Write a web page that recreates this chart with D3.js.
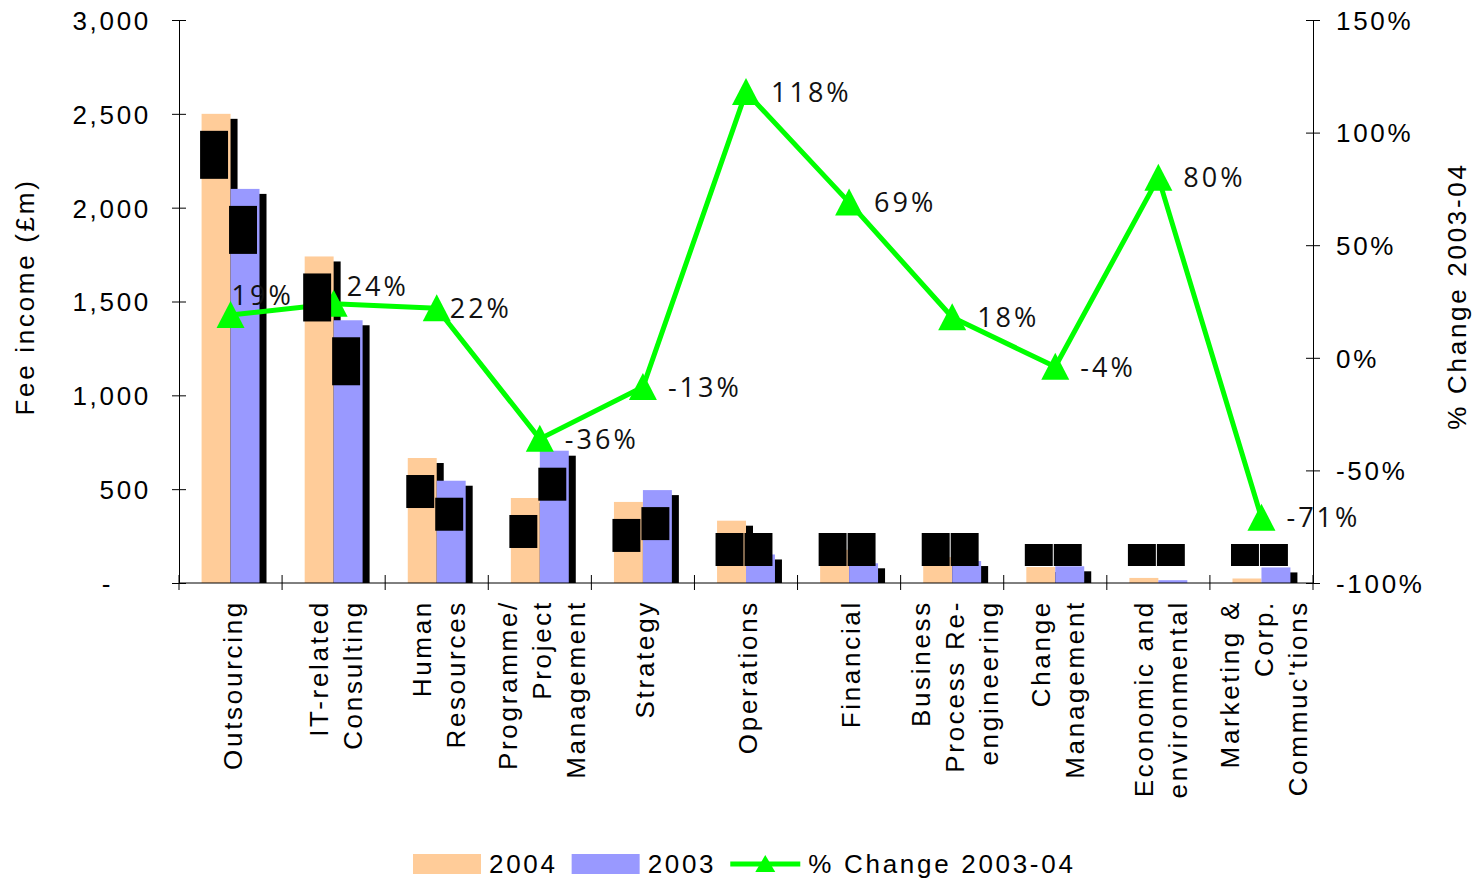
<!DOCTYPE html>
<html><head><meta charset="utf-8">
<script src="https://cdn.jsdelivr.net/npm/d3@7"></script>
<style>body{margin:0;background:#fff} svg{display:block}</style>
</head><body><svg id="c" width="1480" height="880"></svg>
<script>
// ---------- data ----------
const categories = ["Outsourcing","IT-related Consulting","Human Resources","Programme/ Project Management","Strategy","Operations","Financial","Business Process Re-engineering","Change Management","Economic and environmental","Marketing & Corp. Commuc'tions"];
const categoryLines = [["Outsourcing"],["IT-related","Consulting"],["Human","Resources"],["Programme/","Project","Management"],["Strategy"],["Operations"],["Financial"],["Business","Process Re-","engineering"],["Change","Management"],["Economic and","environmental"],["Marketing &","Corp.","Commuc'tions"]];
const fee2004 = [2500, 1740, 666, 453, 432, 332, 177, 138, 85, 27, 24];
const fee2003 = [2100, 1400, 545, 705, 495, 152, 105, 117, 89, 15, 83];
const pctChange = [19, 24, 22, -36, -13, 118, 69, 18, -4, 80, -71];
const leftTicks = [0, 500, 1000, 1500, 2000, 2500, 3000];
const rightTicks = [-100, -50, 0, 50, 100, 150];
const seriesNames = ["2004", "2003", "% Change 2003-04"];
const seriesColors = ["#FFCC99", "#9999FF", "#00FF00"];

// ---------- setup ----------
const svg = d3.select("#c");
const plot = {left:179, right:1313, top:20, bottom:583};
const AX_FONT = "'Liberation Sans', Arial, sans-serif";
const LBL_FONT = "'Open Sans', 'Noto Sans', sans-serif";
const styleText = sel => sel.style("font-family", AX_FONT).style("font-size","26px")
  .style("letter-spacing","2.7px").attr("fill","#000");

const x = d3.scaleBand().domain(categories).range([plot.left, plot.right]).padding(0);
const bw = x.bandwidth();
const xs = d3.scaleBand().domain(["2004","2003"]).range([0,bw]).paddingInner(0).paddingOuter(0.78);
const y = d3.scaleLinear().domain([0,3000]).range([plot.bottom, plot.top]);
const y2 = d3.scaleLinear().domain([-100,150]).range([plot.bottom, plot.top]);

const bars = [];
categories.forEach((c,i) => {
  bars.push({c, s:"2004", v:fee2004[i], color:seriesColors[0]});
  bars.push({c, s:"2003", v:fee2003[i], color:seriesColors[1]});
});

// ---------- shadows + bars ----------
const SH_DX = 7, SH_DY = 5;
svg.append("g").selectAll("rect").data(bars).join("rect")
  .attr("x", d => x(d.c) + xs(d.s) + SH_DX)
  .attr("y", d => y(d.v) + SH_DY)
  .attr("width", xs.bandwidth())
  .attr("height", d => Math.max(0, plot.bottom - y(d.v) - SH_DY))
  .attr("fill", "#000");
svg.append("g").selectAll("rect").data(bars).join("rect")
  .attr("x", d => x(d.c) + xs(d.s))
  .attr("y", d => y(d.v))
  .attr("width", xs.bandwidth())
  .attr("height", d => plot.bottom - y(d.v))
  .attr("fill", d => d.color);

// ---------- axes ----------
const gl = svg.append("g").attr("transform", `translate(${plot.left},0)`)
  .call(d3.axisLeft(y).tickValues(leftTicks).tickSizeInner(7).tickSizeOuter(0).tickPadding(21)
    .tickFormat(d => d === 0 ? "-" : d3.format(",")(d)));
gl.selectAll(".tick line").attr("x1", -7).attr("x2", 7).attr("stroke","#000");
gl.select(".domain").attr("stroke","#000");
gl.selectAll(".tick text").call(styleText).attr("dy","0.36em");
gl.selectAll(".tick text").filter(d => d === 0).attr("x", -66);

const gr = svg.append("g").attr("transform", `translate(${plot.right},0)`)
  .call(d3.axisRight(y2).tickValues(rightTicks).tickSizeInner(7).tickSizeOuter(0).tickPadding(16)
    .tickFormat(d => d + "%"));
gr.selectAll(".tick line").attr("x1", -7).attr("x2", 7).attr("stroke","#000");
gr.select(".domain").attr("stroke","#000");
gr.selectAll(".tick text").call(styleText).attr("dy","0.36em");

// category axis
const gx = svg.append("g");
gx.append("line").attr("x1", plot.left).attr("x2", plot.right)
  .attr("y1", y(0)).attr("y2", y(0)).attr("stroke", "#000");
const bounds = categories.map(c => x(c)).concat([x(categories[categories.length-1]) + bw]);
gx.selectAll("line.tk").data(bounds).join("line").attr("class","tk")
  .attr("x1", d => d).attr("x2", d => d)
  .attr("y1", y(0) - 8).attr("y2", y(0) + 7).attr("stroke", "#000");
const LINE_H = 34;
categories.forEach((c,i) => {
  const lines = categoryLines[i];
  const cx = x(c) + bw/2;
  lines.forEach((t,j) => {
    const off = (j - (lines.length-1)/2) * LINE_H;
    gx.append("text").text(t).call(styleText)
      .attr("text-anchor","end").attr("dy","0.36em")
      .attr("transform", `translate(${cx + off + 2},${y(0) + 17}) rotate(-90)`);
  });
});

// axis titles
svg.append("text").text("Fee income (£m)").call(styleText)
  .attr("text-anchor","middle").attr("dy","0.36em")
  .attr("transform","translate(25,297) rotate(-90)");
svg.append("text").text("% Change 2003-04").call(styleText)
  .attr("text-anchor","middle").attr("dy","0.36em")
  .attr("transform","translate(1457,296) rotate(-90)");

// ---------- % change line ----------
const pts = categories.map((c,i) => ({c, p:pctChange[i], px:x(c)+bw/2, py:y2(pctChange[i])}));
svg.append("path").datum(pts)
  .attr("d", d3.line().x(d => d.px).y(d => d.py))
  .attr("fill","none").attr("stroke", seriesColors[2]).attr("stroke-width", 5)
  .attr("stroke-linejoin","round");
const TRI = "M0,-14L14,13L-14,13Z";
svg.append("g").selectAll("path").data(pts).join("path")
  .attr("d", TRI).attr("transform", d => `translate(${d.px},${d.py})`)
  .attr("fill", seriesColors[2]);

// ---------- value label backgrounds (rendered black in the source) ----------
svg.append("g").selectAll("rect").data(bars).join("rect")
  .each(function(d){
    const s = d3.format(",")(Math.round(d.v));
    const digits = s.replace(/[^0-9]/g,"").length;
    const commas = s.length - digits;
    const h = 11*digits + 4*commas;
    let top = y(d.v) + 17;
    if (top + h > plot.bottom - 17) top = plot.bottom - 17 - h;
    d3.select(this)
      .attr("x", x(d.c) + xs(d.s) - 1.5)
      .attr("y", top)
      .attr("width", xs.bandwidth() - 1)
      .attr("height", h)
      .attr("fill","#000");
  });

// ---------- % labels ----------
const nudge = {0:[1,-20], 1:[13,-17], 2:[13,0]};
svg.append("g").selectAll("text").data(pts).join("text")
  .text(d => d.p + "%")
  .attr("x", (d,i) => d.px + (nudge[i] ? nudge[i][0] : 25))
  .attr("y", (d,i) => d.py + (nudge[i] ? nudge[i][1] : 0))
  .attr("dy","0.36em")
  .style("font-family", LBL_FONT).style("font-size","27px").style("letter-spacing","3px")
  .attr("fill","#111");

// ---------- legend ----------
const lg = svg.append("g");
let lx = 413;
const LY = 864;
[0,1].forEach(k => {
  lg.append("rect").attr("x", lx).attr("y", LY-10).attr("width", 68).attr("height", 20)
    .attr("fill", seriesColors[k]);
  lx += 76;
  const t = lg.append("text").text(seriesNames[k]).call(styleText)
    .attr("x", lx).attr("y", LY).attr("dy","0.36em");
  lx += t.node().getComputedTextLength() + 14;
});
lg.append("line").attr("x1", lx).attr("x2", lx+70).attr("y1", LY).attr("y2", LY)
  .attr("stroke", seriesColors[2]).attr("stroke-width", 5);
lg.append("path").attr("d","M0,-9L10,8L-10,8Z").attr("transform",`translate(${lx+35},${LY})`)
  .attr("fill", seriesColors[2]);
lx += 78;
lg.append("text").text(seriesNames[2]).call(styleText)
  .attr("x", lx).attr("y", LY).attr("dy","0.36em");
</script></body></html>
